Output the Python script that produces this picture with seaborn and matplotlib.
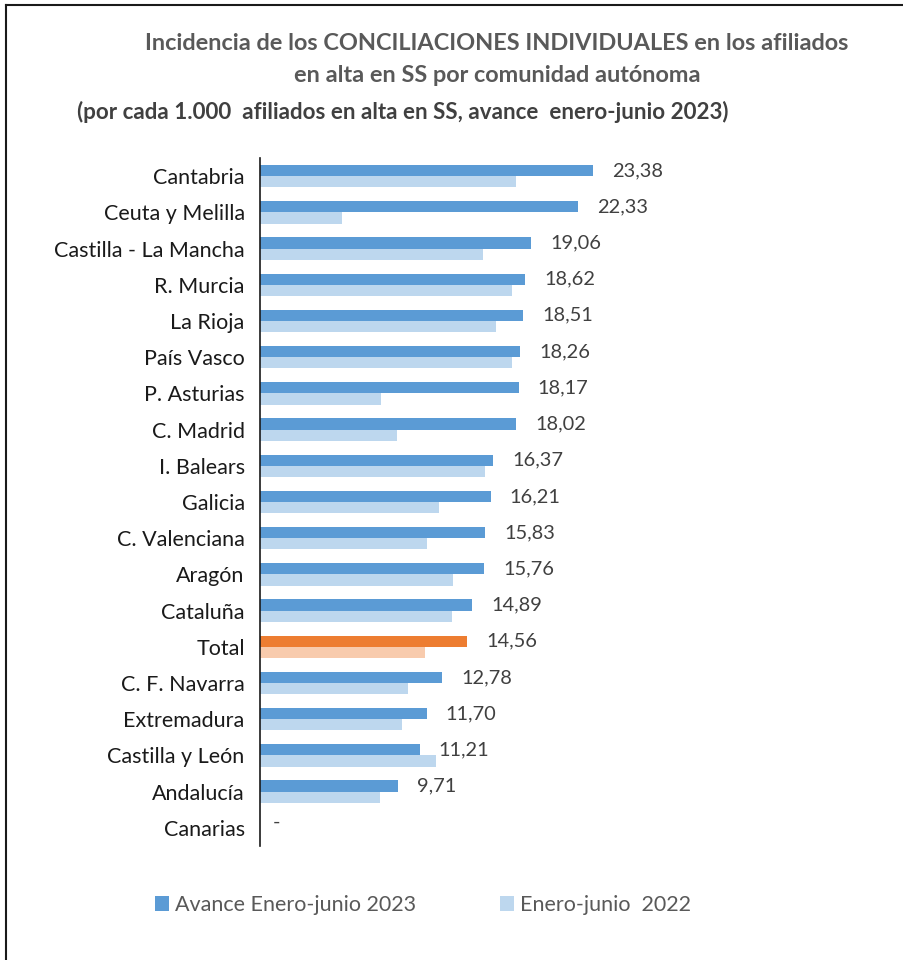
import numpy as np
import pandas as pd
import seaborn as sns
import matplotlib
matplotlib.use('Agg')
from matplotlib import pyplot as plt
from matplotlib.lines import Line2D
from matplotlib.patches import Patch

# Data
regiones = ['Cantabria', 'Ceuta y Melilla', 'Castilla - La Mancha', 'R. Murcia', 'La Rioja',
            'País Vasco', 'P. Asturias', 'C. Madrid', 'I. Balears', 'Galicia', 'C. Valenciana',
            'Aragón', 'Cataluña', 'Total', 'C. F. Navarra', 'Extremadura', 'Castilla y León',
            'Andalucía', 'Canarias']
avance_2023 = [23.38, 22.33, 19.06, 18.62, 18.51, 18.26, 18.17, 18.02, 16.37, 16.21, 15.83,
               15.76, 14.89, 14.56, 12.78, 11.70, 11.21, 9.71, 0.0]
enero_junio_2022 = [17.97, 5.74, 15.67, 17.71, 16.56, 17.71, 8.53, 9.63, 15.81, 12.60, 11.71,
                    13.59, 13.49, 11.60, 10.40, 9.98, 12.37, 8.43, 0.0]
etiquetas = ['23,38', '22,33', '19,06', '18,62', '18,51', '18,26', '18,17', '18,02', '16,37',
             '16,21', '15,83', '15,76', '14,89', '14,56', '12,78', '11,70', '11,21', '9,71', '-']
series = ['Avance Enero-junio 2023', 'Enero-junio  2022']

c_2023 = '#5B9BD5'
c_2022 = '#BDD7EE'
c_tot_2023 = '#ED7D31'
c_tot_2022 = '#F8CBAD'

df = pd.DataFrame({'region': regiones * 2,
                   'valor': avance_2023 + enero_junio_2022,
                   'serie': [series[0]] * len(regiones) + [series[1]] * len(regiones)})

plt.rcParams['font.family'] = ['Lato', 'DejaVu Sans']

fig = plt.figure(figsize=(9.04, 9.6), dpi=100)
ax = fig.add_axes([260 / 904, 1 - 846 / 960, (872 - 260) / 904, (846 - 158) / 960])

sns.barplot(data=df, y='region', x='valor', hue='serie', order=regiones, hue_order=series,
            palette=[c_2023, c_2022], width=0.62, ax=ax, legend=False, saturation=1)

# Total row in orange
i_tot = regiones.index('Total')
ax.containers[0][i_tot].set_facecolor(c_tot_2023)
ax.containers[1][i_tot].set_facecolor(c_tot_2022)

# value labels on the 2023 bars
for bar, lab in zip(ax.containers[0], etiquetas):
    w = bar.get_width()
    y = bar.get_y() + bar.get_height() / 2
    ax.annotate(lab, xy=(w, y), xytext=(19 if lab != '-' else 13, 0), textcoords='offset pixels',
                va='center', ha='left', fontsize=14.4, color='#404040')

ax.set_xlim(0, 43)
ax.set_ylim(len(regiones) - 0.5, -0.5)
ax.set_xlabel('')
ax.set_ylabel('')
ax.set_xticks([])
for s in ['top', 'right', 'bottom']:
    ax.spines[s].set_visible(False)
ax.spines['left'].set_color('#1a1a1a')
ax.spines['left'].set_linewidth(1.2)
ax.tick_params(axis='y', length=0, pad=11, labelsize=15.5, labelcolor='#1a1a1a')

# titles
fig.text(497 / 904, 1 - 44 / 960, 'Incidencia de los CONCILIACIONES INDIVIDUALES en los afiliados',
         ha='center', va='center', fontsize=16.9, fontweight='bold', color='#595959')
fig.text(497 / 904, 1 - 75 / 960, 'en alta en SS por comunidad autónoma',
         ha='center', va='center', fontsize=16.9, fontweight='bold', color='#595959')
fig.text(77 / 904, 1 - 112 / 960, '(por cada 1.000  afiliados en alta en SS, avance  enero-junio 2023)',
         ha='left', va='center', fontsize=16.1, fontweight='bold', color='#404040')

# legend
handles = [Patch(facecolor=c_2023), Patch(facecolor=c_2022)]
fig.legend(handles, series, loc='center', bbox_to_anchor=(423 / 904, 1 - 905 / 960), ncol=2,
           frameon=False, fontsize=15.5, handlelength=0.65, handleheight=0.65, handletextpad=0.28,
           columnspacing=3.9, labelcolor='#595959')

# border
fig.add_artist(Line2D([6 / 904, 6 / 904], [0, 1 - 5 / 960], color='#1a1a1a', lw=1.5))
fig.add_artist(Line2D([6 / 904, 1], [1 - 5 / 960, 1 - 5 / 960], color='#1a1a1a', lw=1.5))

fig.savefig('out.png', dpi=100)
